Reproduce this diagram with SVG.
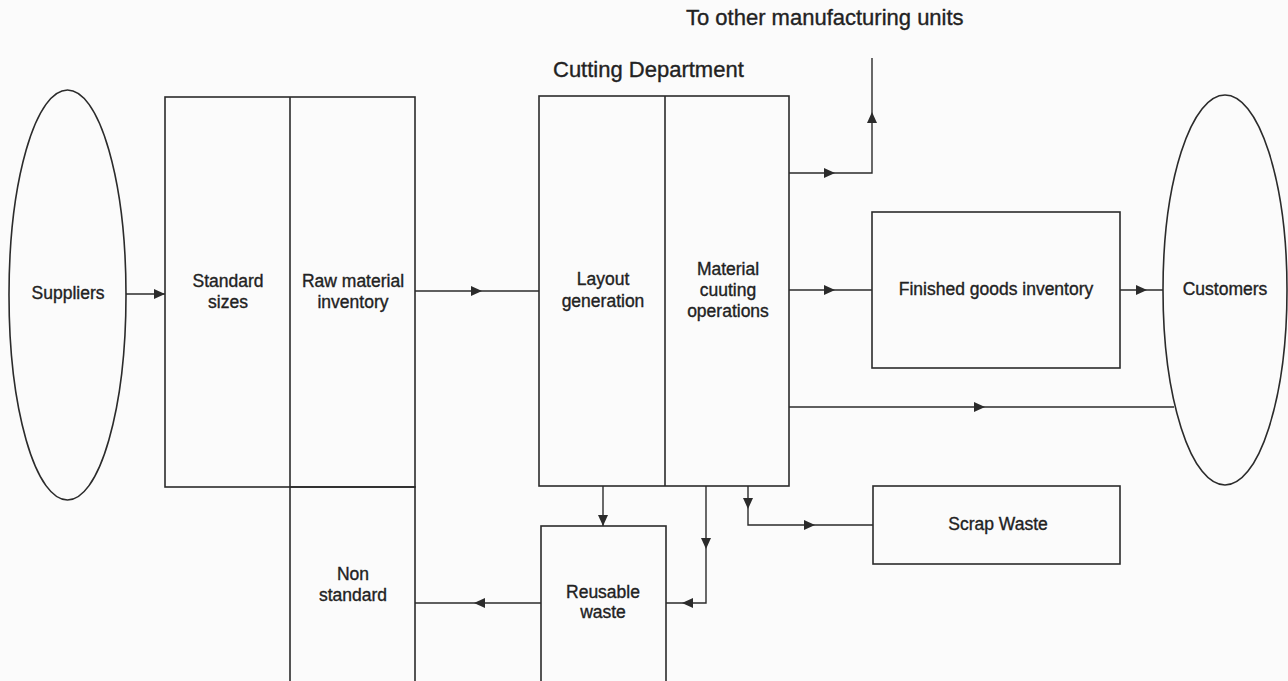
<svg xmlns="http://www.w3.org/2000/svg" xmlns:xlink="http://www.w3.org/1999/xlink" width="1288" height="681" viewBox="0 0 1288 681">
  <style>
    .box { fill: none; stroke: #2b2b2b; stroke-width: 1.6; }
    .ln { fill: none; stroke: #2b2b2b; stroke-width: 1.4; }
    .lbl { font-family: "Liberation Sans", Arial, sans-serif; font-size: 17.5px; fill: #222; stroke: #222; stroke-width: 0.35; text-anchor: middle; }
    .ttl { font-family: "Liberation Sans", Arial, sans-serif; font-size: 22px; fill: #222; stroke: #222; stroke-width: 0.35; }
  </style>
  <defs>
    <path id="ah" d="M0,0 L-11,-5 L-11,5 Z" fill="#2b2b2b"/>
  </defs>
  <rect x="0" y="0" width="1288" height="681" fill="#fbfbfb"/>

  <text class="ttl" x="686" y="25">To other manufacturing units</text>
  <text class="ttl" x="553" y="77">Cutting Department</text>

  <g id="suppliers">
    <ellipse class="box" cx="67.5" cy="295" rx="58.5" ry="205"/>
    <text class="lbl" x="68" y="299">Suppliers</text>
  </g>

  <g id="raw-material">
    <rect class="box" x="165" y="97" width="250" height="390"/>
    <line class="box" x1="290" y1="97" x2="290" y2="487"/>
    <text class="lbl" x="228" y="287">Standard</text>
    <text class="lbl" x="228" y="308">sizes</text>
    <text class="lbl" x="353" y="287">Raw material</text>
    <text class="lbl" x="353" y="308">inventory</text>
  </g>

  <g id="non-standard">
    <rect class="box" x="290" y="487" width="125" height="210"/>
    <text class="lbl" x="353" y="580">Non</text>
    <text class="lbl" x="353" y="601">standard</text>
  </g>

  <g id="cutting">
    <rect class="box" x="539" y="96" width="250" height="390"/>
    <line class="box" x1="665" y1="96" x2="665" y2="486"/>
    <text class="lbl" x="603" y="285">Layout</text>
    <text class="lbl" x="603" y="307">generation</text>
    <text class="lbl" x="728" y="275">Material</text>
    <text class="lbl" x="728" y="296">cuuting</text>
    <text class="lbl" x="728" y="317">operations</text>
  </g>

  <g id="finished-goods">
    <rect class="box" x="872" y="212" width="248" height="156"/>
    <text class="lbl" x="996" y="295">Finished goods inventory</text>
  </g>

  <g id="customers">
    <ellipse class="box" cx="1225" cy="290" rx="62" ry="195"/>
    <text class="lbl" x="1225" y="295">Customers</text>
  </g>

  <g id="reusable-waste">
    <rect class="box" x="541" y="526" width="125" height="210"/>
    <text class="lbl" x="603" y="598">Reusable</text>
    <text class="lbl" x="603" y="618">waste</text>
  </g>

  <g id="scrap-waste">
    <rect class="box" x="873" y="486" width="247" height="78"/>
    <text class="lbl" x="998" y="530">Scrap Waste</text>
  </g>

  <g id="connectors">
    <path class="ln" d="M126,294 H165"/>
    <use xlink:href="#ah" transform="translate(165,294)"/>

    <path class="ln" d="M415,291 H539"/>
    <use xlink:href="#ah" transform="translate(482,291)"/>

    <path class="ln" d="M789,173 H872 V58"/>
    <use xlink:href="#ah" transform="translate(835,173)"/>
    <use xlink:href="#ah" transform="translate(872,112) rotate(-90)"/>

    <path class="ln" d="M789,290 H872"/>
    <use xlink:href="#ah" transform="translate(835,290)"/>

    <path class="ln" d="M789,407 H1174"/>
    <use xlink:href="#ah" transform="translate(985,407)"/>

    <path class="ln" d="M1120,290 H1163"/>
    <use xlink:href="#ah" transform="translate(1147,290)"/>

    <path class="ln" d="M603,486 V526"/>
    <use xlink:href="#ah" transform="translate(603,526) rotate(90)"/>

    <path class="ln" d="M706,486 V603 H666"/>
    <use xlink:href="#ah" transform="translate(706,549) rotate(90)"/>
    <use xlink:href="#ah" transform="translate(682,603) rotate(180)"/>

    <path class="ln" d="M748,486 V525 H873"/>
    <use xlink:href="#ah" transform="translate(748,509) rotate(90)"/>
    <use xlink:href="#ah" transform="translate(815,525)"/>

    <path class="ln" d="M541,603 H415"/>
    <use xlink:href="#ah" transform="translate(474,603) rotate(180)"/>
  </g>
</svg>
